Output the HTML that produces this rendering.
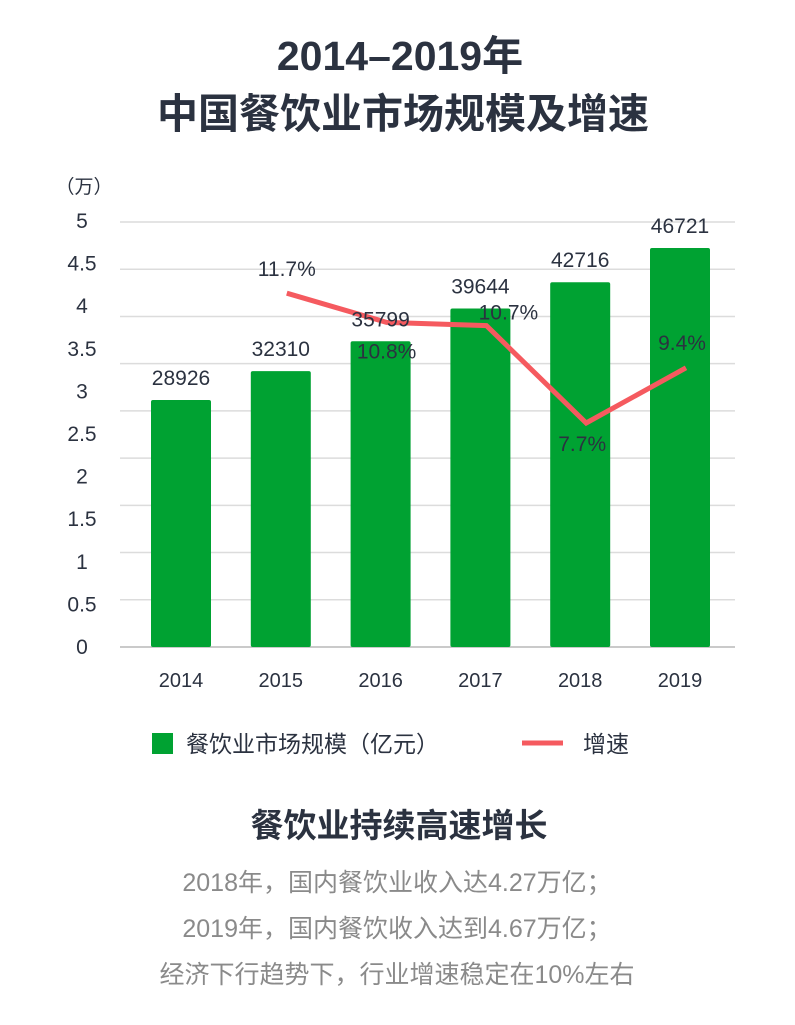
<!DOCTYPE html>
<html><head><meta charset="utf-8"><style>
body{margin:0;background:#fff;width:795px;height:1020px;overflow:hidden;font-family:"Liberation Sans","Noto Sans CJK SC",sans-serif}
svg text{font-family:"Liberation Sans","Noto Sans CJK SC",sans-serif}
</style></head><body>
<svg id="c" width="795" height="1020">
<text x="400" y="70" text-anchor="middle" font-size="41" font-weight="bold" fill="#2b3240">2014–2019年</text>
<text x="403" y="128" text-anchor="middle" font-size="41" font-weight="bold" fill="#2b3240">中国餐饮业市场规模及增速</text>
<text x="84" y="193" text-anchor="middle" font-size="19" fill="#2b3240">（万）</text>
<g id="grid"></g><g id="bars"></g><g id="line"></g><g id="labels"></g>
<rect x="152" y="733" width="21" height="21" fill="#00a232"/>
<text x="186" y="752" font-size="23" fill="#2b3240">餐饮业市场规模（亿元）</text>
<line x1="522" y1="743" x2="563" y2="743" stroke="#f55a5f" stroke-width="5"/>
<text x="583" y="752" font-size="23" fill="#2b3240">增速</text>
<text x="399" y="837" text-anchor="middle" font-size="33" font-weight="bold" fill="#2b3240">餐饮业持续高速增长</text>
<text x="397" y="891" text-anchor="middle" font-size="25" fill="#8a8a8a">2018年，国内餐饮业收入达4.27万亿；</text>
<text x="397" y="937" text-anchor="middle" font-size="25" fill="#8a8a8a">2019年，国内餐饮收入达到4.67万亿；</text>
<text x="397" y="983" text-anchor="middle" font-size="25" fill="#8a8a8a">经济下行趋势下，行业增速稳定在10%左右</text>
</svg>
<script>
const categories=["2014","2015","2016","2017","2018","2019"];
const marketSize=[28926,32310,35799,39644,42716,46721];
const growth=[null,11.7,10.8,10.7,7.7,9.4];
const yTicks=["0","0.5","1","1.5","2","2.5","3","3.5","4","4.5","5"];
const NS="http://www.w3.org/2000/svg";
function mk(p,t,a){const e=document.createElementNS(NS,t);for(const k in a)e.setAttribute(k,a[k]);document.getElementById(p).appendChild(e);return e;}
const x0=131,step=99.8;
function xPos(i){return x0+step*i+50;}
function yBar(v){return 647-85.4*v/10000;}
function yGrowth(v){return 346.4-32.45*(v-10.06);}
for(let i=0;i<=9;i++){
 const y=222+i*(425/9);
 const g=mk('grid','line',{x1:120,x2:735,y1:y,y2:y,stroke:i==9?'#b8b8b8':'#dcdcdc','stroke-width':1.5});
 
 
}
yTicks.forEach((t,i)=>{
 const e=mk('grid','text',{x:82,y:654-i*42.6,'text-anchor':'middle','font-size':21,fill:'#2b3240'});
 e.textContent=t;
 
 
});
categories.forEach((c,i)=>{
 const cx=xPos(i),top=yBar(marketSize[i]);
 const r=mk('bars','rect',{x:cx-30,y:top,width:60,height:647-top,fill:'#00a232',rx:2});
 
 
 const v=mk('labels','text',{x:cx,y:top-15,'text-anchor':'middle','font-size':21,fill:'#2b3240'});
 v.textContent=marketSize[i];
 
 
 const xl=mk('labels','text',{x:cx,y:687,'text-anchor':'middle','font-size':20,fill:'#2b3240'});
 xl.textContent=c;
 
 
});
const pts=[];growth.forEach((g,i)=>{if(g!==null)pts.push([xPos(i)+6,yGrowth(g),g]);});
const pl=mk('line','polyline',{points:pts.map(p=>p[0]+','+p[1]).join(' '),fill:'none',stroke:'#f55a5f','stroke-width':5,'stroke-linejoin':'miter'});


const ldy=[-17,36,-6,28,-18],ldx=[0,0,22,-4,-4];
pts.forEach((p,i)=>{
 const t=mk('labels','text',{x:p[0]+ldx[i],y:p[1]+ldy[i],'text-anchor':'middle','font-size':21,fill:'#2b3240'});
 t.textContent=p[2].toFixed(1)+'%';
 
 
});
</script>
</body></html>
